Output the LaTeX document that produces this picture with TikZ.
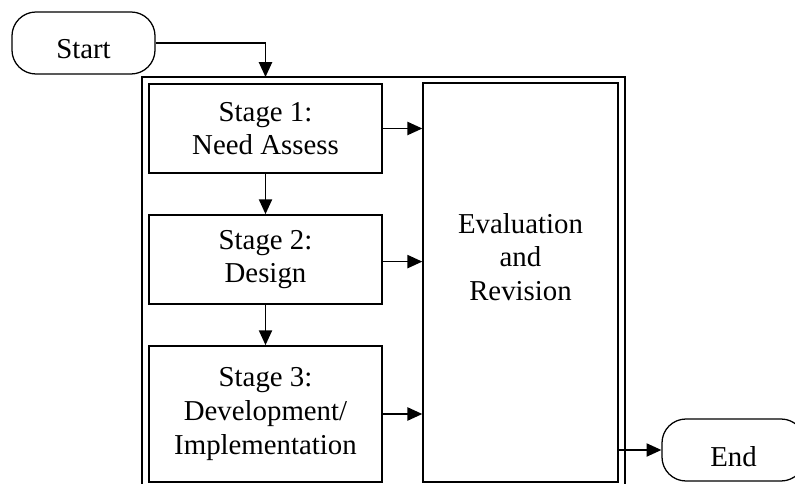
\documentclass[tikz,border=0pt]{standalone}
\usepackage{fontspec}
\setmainfont{Liberation Serif}
\usetikzlibrary{arrows.meta,positioning,calc}

\begin{document}
\begin{tikzpicture}[x=0.025cm,y=-0.025cm,
  every node/.style={font=\fontsize{20.5}{24}\selectfont},
  stage/.style={draw,line width=1.25pt,minimum width=5.825cm,align=center,inner sep=0pt},
  term/.style={draw,line width=0.9pt,rounded corners=0.6cm,minimum width=3.575cm,minimum height=1.55cm,
    text height=0.8cm,text depth=0cm,inner sep=0pt},
  arr/.style={-{Triangle[length=0.37cm,width=0.33cm]},line width=1.05pt}
]
  \useasboundingbox (0,0) rectangle (795,484);

  % outer frame, open at the bottom
  \draw[line width=0.9pt] (142,484) -- (142,77) -- (625,77) -- (625,484);
  \coordinate (entry) at (265.5,77);

  \node[term] (start) at (83.5,43) {Start};
  \node[term] (end) at (733.5,450) {End};

  \node[stage,minimum height=2.225cm] (s1) at (265.5,128.5) {Stage 1:\\Need Assess};
  \node[stage,minimum height=2.225cm] (s2) at (265.5,259.5) {Stage 2:\\Design};
  \node[stage,minimum height=3.4cm] (s3) at (265.5,414) {Stage 3:\\Development/\\Implementation};
  \node[draw,line width=1pt,minimum width=4.875cm,minimum height=9.975cm,inner sep=0pt,
    label={[name=evaltext,align=center,yshift=0.64cm]center:Evaluation\\and\\Revision}] (eval) at (520.5,282.5) {};

  \draw[arr] (start.east) -| (entry);
  \draw[arr] (s1) -- (s2);
  \draw[arr] (s2) -- (s3);
  \draw[arr] (s1.east) -- (s1.east -| eval.west);
  \draw[arr] ([yshift=-1.5]s2.east) -- ([yshift=-1.5]s2.east -| eval.west);
  \draw[arr] (s3.east) -- (s3.east -| eval.west);
  \draw[arr] (eval.east |- end) -- (end.west);
\end{tikzpicture}
\end{document}
